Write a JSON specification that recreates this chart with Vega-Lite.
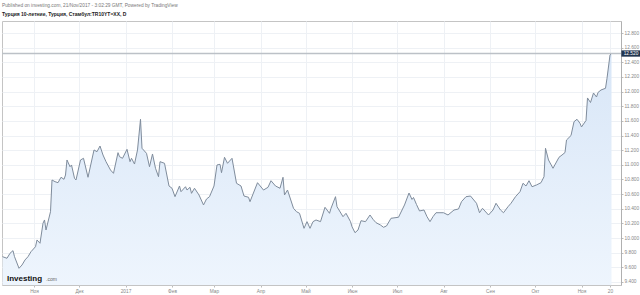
{
  "$schema": "https://vega.github.io/schema/vega-lite/v6.json",
  "width": 619,
  "height": 264,
  "autosize": "none",
  "padding": {"left": 2, "top": 21, "right": 19, "bottom": 10},
  "background": "white",
  "title": {
    "text": "Published on investing.com, 21/Nov/2017 - 3:02:29 GMT, Powered by TradingView",
    "subtitle": "Турция 10-летние, Турция, Стамбул:TR10YT=XX, D",
    "anchor": "start",
    "frame": "group",
    "font": "Liberation Sans",
    "fontSize": 4.8,
    "fontWeight": "normal",
    "color": "#777777",
    "subtitleFont": "Liberation Sans",
    "subtitleFontSize": 5,
    "subtitleFontWeight": "bold",
    "subtitleColor": "#222222",
    "subtitlePadding": 4,
    "offset": 4
  },
  "config": {
    "view": {"stroke": "#c4c4c4", "strokeWidth": 1},
    "axis": {"labelFont": "Liberation Sans", "title": null, "labelOverlap": false, "labelSeparation": 0}
  },
  "datasets": {
    "series": [
      {"d": "2016-10-11", "v": 9.746}, {"d": "2016-10-14", "v": 9.724}, {"d": "2016-10-16", "v": 9.792}, {"d": "2016-10-18", "v": 9.828},
      {"d": "2016-10-19", "v": 9.746}, {"d": "2016-10-22", "v": 9.587}, {"d": "2016-10-24", "v": 9.632}, {"d": "2016-10-26", "v": 9.701},
      {"d": "2016-10-28", "v": 9.746}, {"d": "2016-10-30", "v": 9.814}, {"d": "2016-11-02", "v": 9.882}, {"d": "2016-11-03", "v": 9.974},
      {"d": "2016-11-05", "v": 9.929}, {"d": "2016-11-07", "v": 10.202}, {"d": "2016-11-08", "v": 10.247}, {"d": "2016-11-09", "v": 10.110},
      {"d": "2016-11-12", "v": 10.360}, {"d": "2016-11-13", "v": 10.793}, {"d": "2016-11-15", "v": 10.770}, {"d": "2016-11-17", "v": 10.756},
      {"d": "2016-11-19", "v": 10.830}, {"d": "2016-11-21", "v": 10.802}, {"d": "2016-11-22", "v": 10.861}, {"d": "2016-11-23", "v": 11.066},
      {"d": "2016-11-25", "v": 10.974}, {"d": "2016-11-26", "v": 10.998}, {"d": "2016-11-28", "v": 10.816}, {"d": "2016-11-29", "v": 10.793},
      {"d": "2016-12-02", "v": 11.066}, {"d": "2016-12-04", "v": 11.089}, {"d": "2016-12-07", "v": 10.830}, {"d": "2016-12-11", "v": 11.203},
      {"d": "2016-12-13", "v": 11.179}, {"d": "2016-12-15", "v": 11.257}, {"d": "2016-12-17", "v": 11.134}, {"d": "2016-12-19", "v": 11.043},
      {"d": "2016-12-22", "v": 10.929}, {"d": "2016-12-24", "v": 10.884}, {"d": "2016-12-27", "v": 11.166}, {"d": "2016-12-28", "v": 11.111},
      {"d": "2016-12-30", "v": 11.089}, {"d": "2017-01-02", "v": 11.212}, {"d": "2017-01-04", "v": 11.043}, {"d": "2017-01-05", "v": 11.089},
      {"d": "2017-01-07", "v": 11.011}, {"d": "2017-01-09", "v": 11.203}, {"d": "2017-01-11", "v": 11.622}, {"d": "2017-01-12", "v": 11.226},
      {"d": "2017-01-15", "v": 11.157}, {"d": "2017-01-17", "v": 10.974}, {"d": "2017-01-19", "v": 11.148}, {"d": "2017-01-21", "v": 10.953},
      {"d": "2017-01-23", "v": 10.838}, {"d": "2017-01-24", "v": 11.043}, {"d": "2017-01-27", "v": 11.021}, {"d": "2017-01-30", "v": 10.711},
      {"d": "2017-02-01", "v": 10.680}, {"d": "2017-02-03", "v": 10.565}, {"d": "2017-02-06", "v": 10.711}, {"d": "2017-02-07", "v": 10.633},
      {"d": "2017-02-10", "v": 10.701}, {"d": "2017-02-11", "v": 10.656}, {"d": "2017-02-13", "v": 10.693}, {"d": "2017-02-14", "v": 10.611},
      {"d": "2017-02-16", "v": 10.680}, {"d": "2017-02-19", "v": 10.588}, {"d": "2017-02-22", "v": 10.452}, {"d": "2017-02-24", "v": 10.533},
      {"d": "2017-02-26", "v": 10.565}, {"d": "2017-03-01", "v": 10.711}, {"d": "2017-03-03", "v": 10.998}, {"d": "2017-03-05", "v": 11.007},
      {"d": "2017-03-06", "v": 10.893}, {"d": "2017-03-08", "v": 11.103}, {"d": "2017-03-10", "v": 11.021}, {"d": "2017-03-13", "v": 11.089},
      {"d": "2017-03-16", "v": 10.748}, {"d": "2017-03-19", "v": 10.711}, {"d": "2017-03-21", "v": 10.574}, {"d": "2017-03-24", "v": 10.557},
      {"d": "2017-03-25", "v": 10.497}, {"d": "2017-03-30", "v": 10.756}, {"d": "2017-04-03", "v": 10.656}, {"d": "2017-04-06", "v": 10.693},
      {"d": "2017-04-08", "v": 10.783}, {"d": "2017-04-11", "v": 10.711}, {"d": "2017-04-14", "v": 10.680}, {"d": "2017-04-16", "v": 10.830},
      {"d": "2017-04-17", "v": 10.588}, {"d": "2017-04-19", "v": 10.656}, {"d": "2017-04-23", "v": 10.406}, {"d": "2017-04-25", "v": 10.360},
      {"d": "2017-04-27", "v": 10.338}, {"d": "2017-04-30", "v": 10.133}, {"d": "2017-05-02", "v": 10.224}, {"d": "2017-05-04", "v": 10.133},
      {"d": "2017-05-06", "v": 10.224}, {"d": "2017-05-08", "v": 10.247}, {"d": "2017-05-11", "v": 10.224}, {"d": "2017-05-14", "v": 10.420},
      {"d": "2017-05-17", "v": 10.338}, {"d": "2017-05-18", "v": 10.406}, {"d": "2017-05-21", "v": 10.565}, {"d": "2017-05-22", "v": 10.428},
      {"d": "2017-05-26", "v": 10.292}, {"d": "2017-05-28", "v": 10.338}, {"d": "2017-05-31", "v": 10.224}, {"d": "2017-06-01", "v": 10.155},
      {"d": "2017-06-03", "v": 10.073}, {"d": "2017-06-05", "v": 10.110}, {"d": "2017-06-07", "v": 10.237}, {"d": "2017-06-10", "v": 10.224},
      {"d": "2017-06-13", "v": 10.315}, {"d": "2017-06-15", "v": 10.256}, {"d": "2017-06-17", "v": 10.210}, {"d": "2017-06-20", "v": 10.178},
      {"d": "2017-06-22", "v": 10.147}, {"d": "2017-06-24", "v": 10.165}, {"d": "2017-06-27", "v": 10.270}, {"d": "2017-07-02", "v": 10.284},
      {"d": "2017-07-06", "v": 10.452}, {"d": "2017-07-09", "v": 10.615}, {"d": "2017-07-11", "v": 10.527}, {"d": "2017-07-12", "v": 10.554},
      {"d": "2017-07-14", "v": 10.458}, {"d": "2017-07-16", "v": 10.370}, {"d": "2017-07-19", "v": 10.383}, {"d": "2017-07-21", "v": 10.292},
      {"d": "2017-07-23", "v": 10.224}, {"d": "2017-07-25", "v": 10.292}, {"d": "2017-07-27", "v": 10.346}, {"d": "2017-08-01", "v": 10.346},
      {"d": "2017-08-04", "v": 10.315}, {"d": "2017-08-08", "v": 10.383}, {"d": "2017-08-11", "v": 10.397}, {"d": "2017-08-13", "v": 10.497},
      {"d": "2017-08-16", "v": 10.565}, {"d": "2017-08-19", "v": 10.574}, {"d": "2017-08-23", "v": 10.475}, {"d": "2017-08-25", "v": 10.346},
      {"d": "2017-08-27", "v": 10.406}, {"d": "2017-08-31", "v": 10.315}, {"d": "2017-09-03", "v": 10.383}, {"d": "2017-09-05", "v": 10.475},
      {"d": "2017-09-08", "v": 10.383}, {"d": "2017-09-10", "v": 10.346}, {"d": "2017-09-13", "v": 10.428}, {"d": "2017-09-15", "v": 10.475},
      {"d": "2017-09-18", "v": 10.565}, {"d": "2017-09-21", "v": 10.633}, {"d": "2017-09-23", "v": 10.748}, {"d": "2017-09-25", "v": 10.711},
      {"d": "2017-09-27", "v": 10.783}, {"d": "2017-09-29", "v": 10.701}, {"d": "2017-10-02", "v": 10.725}, {"d": "2017-10-05", "v": 10.756},
      {"d": "2017-10-07", "v": 10.838}, {"d": "2017-10-08", "v": 11.226}, {"d": "2017-10-10", "v": 11.066}, {"d": "2017-10-13", "v": 10.953},
      {"d": "2017-10-17", "v": 11.103}, {"d": "2017-10-19", "v": 11.134}, {"d": "2017-10-21", "v": 11.168}, {"d": "2017-10-22", "v": 11.339},
      {"d": "2017-10-25", "v": 11.400}, {"d": "2017-10-27", "v": 11.589}, {"d": "2017-10-29", "v": 11.622}, {"d": "2017-10-31", "v": 11.567},
      {"d": "2017-11-01", "v": 11.517}, {"d": "2017-11-04", "v": 11.605}, {"d": "2017-11-05", "v": 11.913}, {"d": "2017-11-07", "v": 11.851},
      {"d": "2017-11-09", "v": 11.981}, {"d": "2017-11-11", "v": 11.926}, {"d": "2017-11-12", "v": 11.988}, {"d": "2017-11-14", "v": 12.022},
      {"d": "2017-11-17", "v": 12.045}, {"d": "2017-11-18", "v": 12.181}, {"d": "2017-11-20", "v": 12.500}, {"d": "2017-11-21", "v": 12.520}
    ],
    "last": [{"price": 12.52, "label": "12.520"}],
    "logo": [{"brand": "Investing", "suffix": ".com"}]
  },
  "layer": [
    {
      "data": {"name": "series"},
      "mark": {
        "type": "area",
        "color": {
          "gradient": "linear", "x1": 0, "y1": 0, "x2": 0, "y2": 1,
          "stops": [{"offset": 0, "color": "#d8e6f7"}, {"offset": 1, "color": "#eef5fd"}]
        }
      },
      "encoding": {
        "x": {
          "field": "d", "type": "temporal",
          "scale": {
            "type": "utc",
            "domain": [
              {"year": 2016, "month": 10, "date": 10, "hours": 16, "utc": true},
              {"year": 2017, "month": 11, "date": 27, "hours": 8, "utc": true}
            ]
          },
          "axis": {
            "title": null,
            "tickCount": 30,
            "values": [
              {"year": 2016, "month": 11, "date": 1, "utc": true},
              {"year": 2016, "month": 12, "date": 1, "utc": true},
              {"year": 2017, "month": 1, "date": 1, "utc": true},
              {"year": 2017, "month": 2, "date": 1, "utc": true},
              {"year": 2017, "month": 3, "date": 1, "utc": true},
              {"year": 2017, "month": 4, "date": 1, "utc": true},
              {"year": 2017, "month": 5, "date": 1, "utc": true},
              {"year": 2017, "month": 6, "date": 1, "utc": true},
              {"year": 2017, "month": 7, "date": 1, "utc": true},
              {"year": 2017, "month": 8, "date": 1, "utc": true},
              {"year": 2017, "month": 9, "date": 1, "utc": true},
              {"year": 2017, "month": 10, "date": 1, "utc": true},
              {"year": 2017, "month": 11, "date": 1, "utc": true},
              {"year": 2017, "month": 11, "date": 20, "utc": true}
            ],
            "labelExpr": "utcdate(datum.value) != 1 ? '' + utcdate(datum.value) : (utcmonth(datum.value) == 0 ? '' + utcyear(datum.value) : ['Янв','Фев','Мар','Апр','Май','Июн','Июл','Авг','Сен','Окт','Ноя','Дек'][utcmonth(datum.value)])",
            "labelFontSize": 4.8,
            "labelColor": "#888888",
            "labelPadding": 1,
            "tickSize": 2,
            "tickColor": "#bbbbbb",
            "domain": false,
            "grid": true,
            "gridColor": "#eef1f5",
            "labelOverlap": false
          }
        },
        "y": {
          "field": "v", "type": "quantitative",
          "scale": {"domain": [9.359, 12.964], "zero": false, "nice": false},
          "axis": {
            "title": null,
            "orient": "right",
            "tickCount": 30,
            "values": [9.4, 9.6, 9.8, 10.0, 10.2, 10.4, 10.6, 10.8, 11.0, 11.2, 11.4, 11.6, 11.8, 12.0, 12.2, 12.4, 12.6, 12.8],
            "format": ".3f",
            "labelFontSize": 4.8,
            "labelColor": "#888888",
            "labelPadding": 1,
            "tickSize": 2,
            "tickColor": "#bbbbbb",
            "domainColor": "#b0b0b0",
            "grid": true,
            "gridColor": "#eef1f5",
            "labelOverlap": false,
            "labelFlush": false
          }
        },
        "y2": {"datum": 9.359}
      }
    },
    {
      "data": {"name": "series"},
      "mark": {"type": "line", "color": "#7f8c9c", "strokeWidth": 1},
      "encoding": {
        "x": {"field": "d", "type": "temporal"},
        "y": {"field": "v", "type": "quantitative"}
      }
    },
    {
      "data": {"name": "last"},
      "mark": {"type": "rule", "color": "#bcc1c7", "strokeWidth": 1.5},
      "encoding": {"y": {"field": "price", "type": "quantitative"}}
    },
    {
      "data": {"name": "last"},
      "mark": {"type": "rect", "color": "#22354f"},
      "encoding": {
        "x": {"datum": {"year": 2017, "month": 11, "date": 27, "hours": 14, "utc": true}, "type": "temporal"},
        "x2": {"datum": {"year": 2017, "month": 12, "date": 10, "utc": true}},
        "y": {"datum": 12.563},
        "y2": {"datum": 12.477}
      }
    },
    {
      "data": {"name": "last"},
      "mark": {"type": "text", "color": "white", "fontSize": 4.8, "font": "Liberation Sans", "align": "center", "baseline": "middle"},
      "encoding": {
        "text": {"field": "label"},
        "x": {"datum": {"year": 2017, "month": 12, "date": 4, "utc": true}, "type": "temporal"},
        "y": {"field": "price", "type": "quantitative"}
      }
    },
    {
      "data": {"name": "logo"},
      "mark": {"type": "text", "color": "#111111", "fontSize": 8, "fontWeight": "bold", "font": "Liberation Sans", "align": "left", "baseline": "alphabetic"},
      "encoding": {
        "text": {"field": "brand"},
        "x": {"datum": {"year": 2016, "month": 10, "date": 14, "utc": true}, "type": "temporal"},
        "y": {"datum": 9.41}
      }
    },
    {
      "data": {"name": "logo"},
      "mark": {"type": "text", "color": "#666666", "fontSize": 5, "font": "Liberation Sans", "align": "left", "baseline": "alphabetic"},
      "encoding": {
        "text": {"field": "suffix"},
        "x": {"datum": {"year": 2016, "month": 11, "date": 9, "utc": true}, "type": "temporal"},
        "y": {"datum": 9.41}
      }
    }
  ]
}
